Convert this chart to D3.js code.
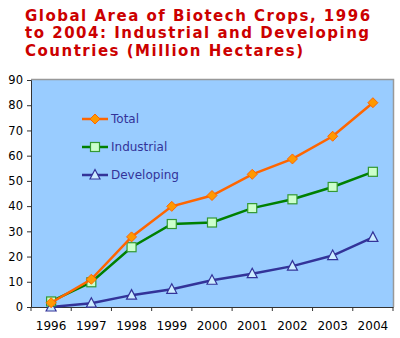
<!DOCTYPE html>
<html><head><meta charset="utf-8">
<script src="https://cdn.jsdelivr.net/npm/d3@7"></script>
<style>body{margin:0;background:#fff}svg{display:block}</style>
</head><body>
<svg id="c" width="400" height="338"></svg>
<script>
const years = ["1996","1997","1998","1999","2000","2001","2002","2003","2004"];
const total = [1.7, 11.0, 27.8, 39.9, 44.2, 52.6, 58.7, 67.7, 81.0];
const industrial = [2.2, 9.8, 23.7, 32.9, 33.5, 39.2, 42.7, 47.6, 53.6];
const developing = [0.0, 1.5, 4.7, 7.0, 10.6, 13.2, 16.2, 20.4, 27.6];
const yTicks = [0,10,20,30,40,50,60,70,80,90];
const seriesNames = ["Total","Industrial","Developing"];
const titleLines = ["Global Area of Biotech Crops, 1996","to 2004: Industrial and Developing","Countries (Million Hectares)"];

const svg = d3.select("#c");
const L = 31, R = 393, T = 80, B = 307;
const x = d3.scaleBand().domain(years).range([L, R]);
const y = d3.scaleLinear().domain([0, 90]).range([B, T]);

// title
svg.append("g").selectAll("text").data(titleLines).join("text")
  .attr("x", 25).attr("y", (d,i) => 20.5 + i*17.5)
  .attr("font-family", "DejaVu Sans, Verdana, sans-serif")
  .attr("font-weight", "bold").attr("font-size", 15)
  .attr("letter-spacing", 1.5)
  .attr("fill", "#cc0000").text(d => d);

// plot background
svg.append("rect").attr("x", L).attr("y", y(90) - 1).attr("width", R - L).attr("height", B - y(90) + 1)
  .attr("fill", "#99ccff");
// gray frame top/right
svg.append("path").attr("d", `M${L},${y(90)-0.5}H${R+0.5}V${B}`).attr("fill","none").attr("stroke","#999").attr("stroke-width",1.5);

// axes
const yAxis = d3.axisLeft(y).tickValues(yTicks).tickSize(4).tickPadding(4);
const gy = svg.append("g").attr("transform", `translate(${L},0)`).call(yAxis);
gy.select(".domain").attr("stroke", "#333");
gy.selectAll(".tick line").attr("stroke", "#333");
gy.selectAll("text").attr("font-family","DejaVu Sans, Verdana, sans-serif").attr("font-size", 11.5).attr("fill","#000");

const xAxis = d3.axisBottom(x).tickSize(0).tickPadding(14);
const gx = svg.append("g").attr("transform", `translate(0,${B})`).call(xAxis);
gx.select(".domain").attr("stroke", "#333");
gx.selectAll("text").attr("font-family","DejaVu Sans, Verdana, sans-serif").attr("font-size", 12).attr("fill","#000");
// category boundary ticks
const bounds = years.map(d => x(d)).concat([x(years[years.length-1]) + x.bandwidth()]);
svg.append("g").selectAll("line").data(bounds).join("line")
  .attr("x1", d => d).attr("x2", d => d).attr("y1", B).attr("y2", B + 4)
  .attr("stroke", "#333");

const cx = d => x(d) + x.bandwidth()/2;
const line = d3.line().x((d,i) => cx(years[i])).y(d => y(d));

const series = [
  {name: seriesNames[0], vals: total, color: "#ff6600", mfill: "#ff9900", mstroke: "#ff6600", shape: "diamond"},
  {name: seriesNames[1], vals: industrial, color: "#008000", mfill: "#ccffcc", mstroke: "#339933", shape: "square"},
  {name: seriesNames[2], vals: developing, color: "#333399", mfill: "#ccecff", mstroke: "#333399", shape: "triangle"}
];

function marker(g, s, px, py) {
  if (s.shape === "diamond") {
    g.append("path").attr("d", `M${px},${py-5}L${px+5},${py}L${px},${py+5}L${px-5},${py}Z`)
      .attr("fill", s.mfill).attr("stroke", s.mstroke).attr("stroke-width", 1);
  } else if (s.shape === "square") {
    g.append("rect").attr("x", px-4.5).attr("y", py-4.5).attr("width", 9).attr("height", 9)
      .attr("fill", s.mfill).attr("stroke", s.mstroke).attr("stroke-width", 1.2);
  } else {
    g.append("path").attr("d", `M${px},${py-5.5}L${px+5},${py+4}L${px-5},${py+4}Z`)
      .attr("fill", s.mfill).attr("stroke", s.mstroke).attr("stroke-width", 1.2);
  }
}

// draw developing first so others overlap like reference
[series[2], series[1], series[0]].forEach(s => {
  const g = svg.append("g");
  g.append("path").attr("d", line(s.vals)).attr("fill","none").attr("stroke", s.color).attr("stroke-width", 2.5);
  s.vals.forEach((v,i) => marker(g, s, cx(years[i]), y(v)));
});

// legend
series.forEach((s,i) => {
  const ly = 119 + i*28;
  const g = svg.append("g");
  g.append("line").attr("x1", 82).attr("x2", 108).attr("y1", ly).attr("y2", ly).attr("stroke", s.color).attr("stroke-width", 2.5);
  marker(g, s, 95, ly);
  g.append("text").attr("x", 111).attr("y", ly + 4).attr("font-family","DejaVu Sans, Verdana, sans-serif")
    .attr("font-size", 12).attr("fill", "#333399").text(s.name);
});
</script>
</body></html>
